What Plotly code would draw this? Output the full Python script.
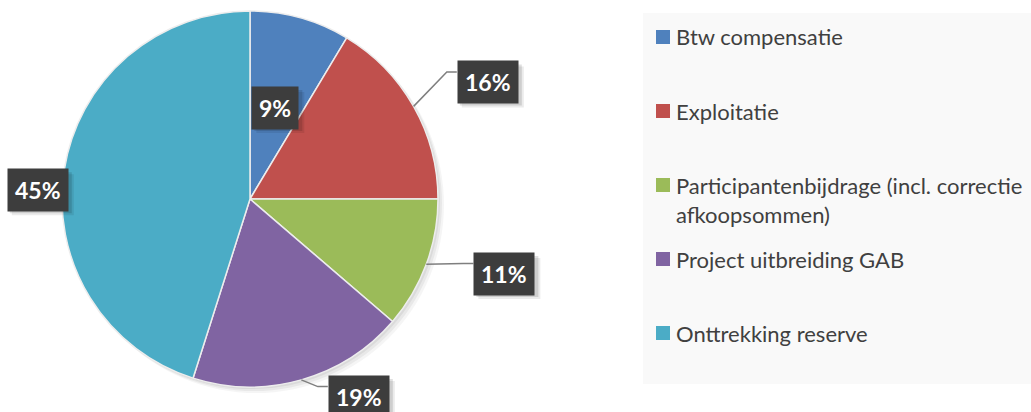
import math
import plotly.graph_objects as go

# ---- data ----
categories = ["Btw compensatie", "Exploitatie",
              "Participantenbijdrage (incl. correctie afkoopsommen)",
              "Project uitbreiding GAB", "Onttrekking reserve"]
values = [8.6, 16.4, 11.3, 18.6, 45.1]
legend_lines = [["Btw compensatie"], ["Exploitatie"],
                ["Participantenbijdrage (incl. correctie", "afkoopsommen)"],
                ["Project uitbreiding GAB"], ["Onttrekking reserve"]]

# ---- style ----
colors = ["#4F81BD", "#C0504D", "#9BBB59", "#8064A2", "#4BACC6"]
label_radius = [0.505, 1.41, 1.41, 1.20, 1.13]
label_dangle = [0.0, 3.3, -4.0, -13.0, -6.3]
show_leader = [False, True, True, True, False]

W, H = 1031, 412
CX, CY, R = 250, 199, 188


def px(x):
    return x / W


def py(y):
    return 1 - y / H


fig = go.Figure()
fig.add_trace(go.Pie(
    labels=categories, values=values, sort=False, direction="clockwise",
    rotation=0, textinfo="none", hoverinfo="label+percent",
    marker=dict(colors=colors, line=dict(color="#EDEDED", width=1.5)),
    domain=dict(x=[px(CX - R), px(CX + R)], y=[py(CY + R), py(CY - R)]),
    showlegend=False,
))

shapes = []
annotations = []

# soft pie shadow
for off, op in [(6, 0.04), (4, 0.05), (2, 0.06)]:
    shapes.append(dict(type="circle", xref="paper", yref="paper", layer="below",
                       x0=px(CX - R + off), x1=px(CX + R + off),
                       y0=py(CY + R + off), y1=py(CY - R + off),
                       fillcolor=f"rgba(0,0,0,{op})", line=dict(width=0)))

# legend background
shapes.append(dict(type="rect", xref="paper", yref="paper", layer="below",
                   x0=px(643), x1=px(1031), y0=py(384), y1=py(13),
                   fillcolor="#F9F9F9", line=dict(width=0)))

total = sum(values)
cum = 0.0
for i, v in enumerate(values):
    mid = (cum + v / 2) / total * 360.0
    cum += v
    pct = round(v / total * 100)
    label = f"{pct}%"
    a = math.radians(mid + label_dangle[i])
    lx = CX + R * label_radius[i] * math.sin(a)
    ly = CY - R * label_radius[i] * math.cos(a)
    if show_leader[i]:
        am = math.radians(mid)
        ex = CX + R * math.sin(am)
        ey = CY - R * math.cos(am)
        bx = lx - 31
        elx, ely = bx - 10, ly - 10
        shapes.append(dict(type="path", xref="paper", yref="paper",
                           path=f"M {px(ex)} {py(ey)} L {px(elx)} {py(ely)} L {px(bx)} {py(ely)}",
                           line=dict(color="#7F7F7F", width=1.5)))
    # soft shadow behind the label box
    bw = 20 + 14 * len(label)
    bh = 41
    for off, op in [(5, 0.08), (3, 0.12)]:
        shapes.append(dict(type="rect", xref="paper", yref="paper",
                           x0=px(lx - bw / 2 + off), x1=px(lx + bw / 2 + off),
                           y0=py(ly + bh / 2 + off), y1=py(ly - bh / 2 + off),
                           fillcolor=f"rgba(0,0,0,{op})", line=dict(width=0)))
    annotations.append(dict(x=px(lx), y=py(ly), xref="paper", yref="paper",
                            xanchor="center", yanchor="middle",
                            text=f"<b>{label}</b>", showarrow=False,
                            font=dict(family="Lato", size=23, color="white"),
                            bgcolor="#3D3D3D", borderpad=7))

# legend
for i, lines in enumerate(legend_lines):
    yc = 37 + 74 * i
    shapes.append(dict(type="rect", xref="paper", yref="paper",
                       x0=px(656), x1=px(670), y0=py(yc + 7), y1=py(yc - 7),
                       fillcolor=colors[i], line=dict(width=0)))
    for j, ln in enumerate(lines):
        annotations.append(dict(x=px(674), y=py(yc + 29 * j), xref="paper", yref="paper",
                                text=ln, showarrow=False, xanchor="left", yanchor="middle",
                                font=dict(family="Lato", size=22, color="#404040")))

fig.update_layout(
    width=W, height=H, margin=dict(l=0, r=0, t=0, b=0),
    paper_bgcolor="white", plot_bgcolor="white",
    shapes=shapes, annotations=annotations, showlegend=False,
)
fig.write_html("out.html")
